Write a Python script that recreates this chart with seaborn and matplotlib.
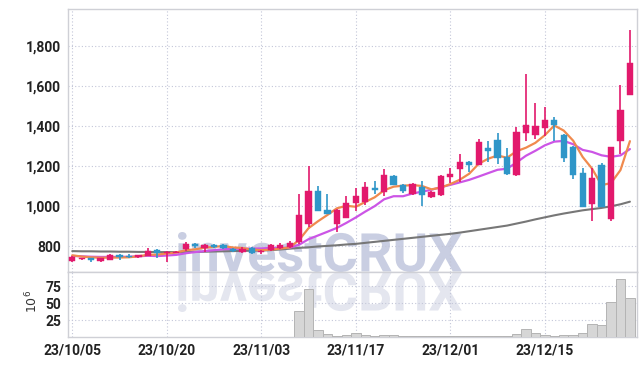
import numpy as np
import pandas as pd
import matplotlib
matplotlib.use("Agg")
import matplotlib.pyplot as plt
import matplotlib.ticker as mticker
from matplotlib.textpath import TextPath
from matplotlib.patches import PathPatch
from matplotlib.font_manager import FontProperties
from matplotlib.transforms import Affine2D, IdentityTransform
import seaborn as sns

# --- Data (daily candles) ---
opens = [727, 737, 742, 727, 735, 760, 755, 747, 755, 783,
         767, 770, 785, 813, 793, 808, 808, 788, 775, 793,
         772, 782, 790, 795, 822, 913, 1075, 980, 913, 943,
         1017, 1023, 1092, 1069, 1151, 1105, 1059, 1097, 1044, 1054,
         1148, 1187, 1220, 1207, 1290, 1329, 1245, 1155, 1366, 1356,
         1390, 1432, 1357, 1296, 1166, 1009, 1206, 935, 1323, 1555]
highs = [751, 745, 745, 744, 763, 763, 765, 760, 790, 785,
         780, 778, 820, 815, 812, 812, 810, 792, 795, 797,
         783, 812, 815, 826, 1063, 1200, 1100, 1060, 985, 1050,
         1092, 1122, 1125, 1184, 1156, 1110, 1118, 1127, 1075, 1154,
         1192, 1258, 1225, 1333, 1324, 1366, 1288, 1395, 1657, 1514,
         1494, 1445, 1362, 1300, 1192, 1192, 1214, 1293, 1605, 1877]
lows = [724, 733, 722, 725, 733, 732, 742, 745, 752, 745,
        725, 768, 780, 790, 772, 790, 788, 773, 770, 765,
        765, 780, 785, 790, 813, 897, 975, 960, 872, 940,
        975, 1005, 1060, 1052, 1105, 1068, 1055, 1003, 1040, 1052,
        1118, 1122, 1170, 1205, 1220, 1211, 1155, 1153, 1324, 1333,
        1349, 1324, 1220, 1135, 995, 929, 995, 925, 1262, 1555]
closes = [747, 742, 732, 742, 760, 750, 747, 758, 777, 767,
          775, 774, 813, 800, 808, 797, 793, 777, 788, 770,
          780, 805, 806, 815, 955, 1075, 977, 963, 980, 1018,
          1050, 1097, 1079, 1156, 1107, 1074, 1112, 1057, 1072, 1151,
          1161, 1220, 1207, 1319, 1277, 1242, 1163, 1369, 1407, 1399,
          1432, 1404, 1242, 1155, 995, 1140, 995, 1293, 1478, 1715]
# volume in millions
volumes = [0.3, 0.2, 0.3, 0.2, 0.4, 0.3, 0.2, 0.2, 0.5, 0.3,
           0.4, 0.2, 0.6, 0.4, 0.3, 0.3, 0.2, 0.2, 0.3, 0.2,
           0.3, 0.4, 0.4, 0.6, 39, 71, 10.5, 4.8, 1.9, 2.9,
           6.3, 3.4, 1.9, 3.4, 2.4, 1.9, 1.4, 1.4, 1.9, 1.4,
           1.9, 1.0, 1.4, 1.0, 1.4, 1.4, 1.0, 4.8, 11.5, 5.8,
           3.4, 1.9, 2.9, 2.9, 5.8, 18.8, 17.3, 51, 86, 57.7]
# moving averages: values before the window start
ma5_head = [756, 750, 746, 744]
ma10_head = [753, 751, 749, 748, 748, 748, 749, 751, 754]
ma60 = [777, 776, 776, 775, 775, 774, 774, 773, 773, 772,
        772, 772, 773, 773, 774, 775, 776, 777, 778, 779,
        780, 782, 785, 789, 793, 796, 800, 803, 806, 810,
        813, 818, 823, 828, 833, 838, 843, 848, 853, 858,
        863, 869, 876, 883, 890, 897, 904, 914, 924, 935,
        945, 955, 964, 972, 980, 986, 992, 1000, 1010, 1023]
tick_pos = [0, 10, 20, 30, 40, 50]
tick_labels = ["23/10/05", "23/10/20", "23/11/03", "23/11/17", "23/12/01", "23/12/15"]

UP, DOWN = "#e2196c", "#2f96c8"
GRID = "#c3c6d8"

sns.set_theme(style="white")
plt.rcParams["font.family"] = ["Roboto", "DejaVu Sans"]

df = pd.DataFrame({"o": opens, "h": highs, "l": lows, "c": closes, "v": volumes})
df["x"] = np.arange(len(df))
ma5 = df["c"].rolling(5).mean().to_numpy()
ma5[:len(ma5_head)] = ma5_head
ma10 = df["c"].rolling(10).mean().to_numpy()
ma10[:len(ma10_head)] = ma10_head
colors = np.where(df["c"] >= df["o"], UP, DOWN)

fig = plt.figure(figsize=(6.42, 3.66), dpi=100)
ax = fig.add_axes([68 / 642, 94 / 366, 569 / 642, 263 / 366])
axv = fig.add_axes([68 / 642, 29 / 366, 569 / 642, 65 / 366], sharex=ax)

# watermark with its reflection, behind the data
fp = FontProperties(family=["Roboto", "DejaVu Sans"], weight="bold")
tp = TextPath((0, 0), "investCRUX", prop=fp, size=50)
ext = tp.get_extents()
sx = (462 - 178) / ext.width
sy = 40 / ext.height
base = Affine2D().translate(-ext.x0, -ext.y0)
main = (base + Affine2D().scale(sx, sy).translate(178, 94)).transform_path(tp)
refl = (base + Affine2D().scale(sx, -sy).translate(178, 94)).transform_path(tp)
ax.add_patch(PathPatch(main, facecolor="#c9cee2", lw=0, zorder=0.1, transform=IdentityTransform()))
axv.add_patch(PathPatch(refl, facecolor="#e4e6ef", lw=0, zorder=0.1, transform=IdentityTransform()))

# moving averages
sns.lineplot(x=df["x"], y=ma60, ax=ax, color="#777777", lw=1.5, zorder=2)
sns.lineplot(x=df["x"], y=ma10, ax=ax, color="#cc55e6", lw=1.6, zorder=2)
sns.lineplot(x=df["x"], y=ma5, ax=ax, color="#f08a4e", lw=1.6, zorder=2)

# candles on top of the averages
ax.vlines(df["x"], df["l"], df["h"], colors=colors, lw=1.2, zorder=3)
body_lo = np.minimum(df["o"], df["c"])
body_h = np.maximum(np.abs(df["c"] - df["o"]), 3)
ax.bar(df["x"], body_h, bottom=body_lo, width=0.66, color=colors,
       edgecolor=colors, linewidth=0.3, zorder=3.5)

# volume
axv.bar(df["x"], df["v"], width=1.0, color="#d6d6d6", edgecolor="#b4b4b4", lw=0.7, zorder=3)

ax.set_xlim(-0.45, 59.75)
ax.set_ylim(673, 1982)
axv.set_ylim(0, 96)
ax.set_yticks(range(800, 1801, 200))
ax.yaxis.set_major_formatter(mticker.FuncFormatter(lambda v, _: f"{v:,.0f}"))
axv.set_yticks([25, 50, 75])
axv.set_xticks(tick_pos)
axv.set_xticklabels(tick_labels)
ax.tick_params(labelbottom=False)

for a in (ax, axv):
    a.set_xlabel("")
    a.set_ylabel("")
    a.grid(True, ls=(0, (1, 2)), color=GRID, lw=0.8)
    a.set_axisbelow(True)
    a.tick_params(length=0, pad=5, labelsize=10, colors="#222222")
    for lab in a.get_xticklabels() + a.get_yticklabels():
        lab.set_fontweight("bold")
    for s in a.spines.values():
        s.set_color("#cfd0d6")
        s.set_linewidth(1.0)

fig.text(32 / 642, 1 - 301 / 366, r"$10^{6}$", rotation=90, ha="center", va="center",
         fontsize=9, color="#333333", family="DejaVu Sans")

fig.savefig("out.png", dpi=100, facecolor="white")
